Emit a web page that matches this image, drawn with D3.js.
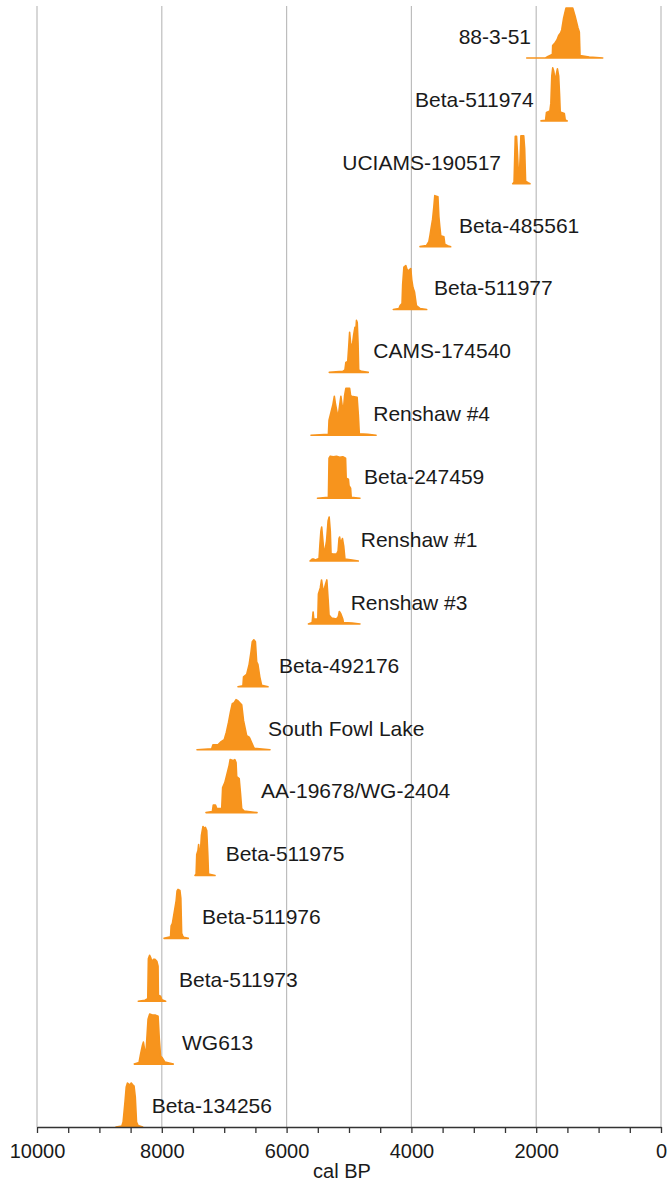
<!DOCTYPE html>
<html>
<head>
<meta charset="utf-8">
<script src="https://cdn.jsdelivr.net/npm/d3@7"></script>
<style>
  html, body { margin: 0; padding: 0; background: #fff; }
  svg { display: block; font-family: "Liberation Sans", Arial, Helvetica, sans-serif; }
</style>
</head>
<body>
<svg id="chart" width="667" height="1182"></svg>
<script>
// Radiocarbon samples, youngest at the top
const samples = [
  "88-3-51", "Beta-511974", "UCIAMS-190517", "Beta-485561", "Beta-511977",
  "CAMS-174540", "Renshaw #4", "Beta-247459", "Renshaw #1", "Renshaw #3",
  "Beta-492176", "South Fowl Lake", "AA-19678/WG-2404", "Beta-511975",
  "Beta-511976", "Beta-511973", "WG613", "Beta-134256"
];

// Calibrated probability distributions: [cal BP, relative probability]
const densities = [
  [[2152,0],[1850,0],[1811,0.03],[1760,0.06],[1740,0.08],[1736,0.25],[1700,0.3],[1667,0.36],[1640,0.45],[1610,0.5],[1591,0.56],[1560,0.8],[1522,1.0],[1415,1.0],[1380,0.85],[1330,0.6],[1309,0.52],[1298,0.05],[1250,0.04],[1150,0.02],[934,0]],
  [[1923,0],[1850,0.01],[1835,0.17],[1780,0.2],[1765,0.35],[1750,0.9],[1735,1.06],[1720,1.0],[1700,0.85],[1688,0.82],[1675,0.95],[1660,1.04],[1640,0.9],[1625,0.5],[1615,0.18],[1550,0.15],[1535,0.02],[1502,0]],
  [[2377,0],[2355,0.03],[2345,0.5],[2335,0.95],[2315,0.95],[2300,0.6],[2285,0.2],[2270,0.15],[2255,0.6],[2245,0.96],[2200,0.96],[2185,0.7],[2170,0.05],[2130,0.02],[2099,0]],
  [[3862,0],[3760,0.02],[3720,0.1],[3700,0.24],[3680,0.4],[3660,0.55],[3640,0.8],[3625,1.02],[3575,1.0],[3560,0.6],[3545,0.4],[3530,0.22],[3480,0.2],[3465,0.05],[3420,0.02],[3370,0]],
  [[4290,0],[4200,0.02],[4180,0.08],[4150,0.12],[4140,0.5],[4120,0.85],[4090,0.88],[4070,0.8],[4050,0.76],[4030,0.8],[4010,0.82],[3995,0.6],[3975,0.44],[3950,0.35],[3920,0.08],[3860,0.02],[3755,0]],
  [[5316,0],[5100,0.02],[5065,0.05],[5050,0.2],[5020,0.22],[5005,0.5],[4990,0.8],[4975,0.6],[4960,0.5],[4945,0.55],[4925,0.75],[4905,0.9],[4890,0.85],[4880,1.04],[4868,1.0],[4855,0.6],[4845,0.05],[4800,0.02],[4691,0]],
  [[5609,0],[5330,0.02],[5320,0.3],[5290,0.45],[5260,0.6],[5235,0.78],[5220,0.65],[5190,0.45],[5170,0.4],[5150,0.6],[5130,0.78],[5110,0.6],[5090,0.5],[5070,0.8],[5050,0.94],[4990,0.94],[4975,0.8],[4960,0.78],[4870,0.76],[4850,0.4],[4835,0.03],[4700,0.02],[4567,0]],
  [[5505,0],[5330,0.02],[5320,0.8],[5300,0.84],[5250,0.83],[5200,0.84],[5150,0.82],[5100,0.83],[5055,0.8],[5045,0.4],[5010,0.38],[5000,0.25],[4975,0.2],[4965,0.02],[4824,0]],
  [[5625,0],[5590,0.04],[5570,0.04],[5540,0.02],[5480,0.05],[5465,0.35],[5450,0.6],[5438,0.68],[5425,0.5],[5405,0.22],[5385,0.22],[5360,0.4],[5335,0.8],[5318,0.88],[5300,0.6],[5288,0.15],[5260,0.14],[5200,0.14],[5175,0.2],[5160,0.45],[5150,0.48],[5135,0.35],[5120,0.4],[5105,0.45],[5085,0.3],[5065,0.04],[4950,0.02],[4851,0]],
  [[5650,0],[5590,0.03],[5575,0.24],[5565,0.1],[5500,0.1],[5490,0.6],[5460,0.72],[5440,0.88],[5420,0.7],[5400,0.68],[5375,0.8],[5355,0.88],[5335,0.5],[5320,0.18],[5280,0.12],[5200,0.1],[5170,0.15],[5155,0.25],[5130,0.2],[5100,0.1],[5090,0.03],[4950,0.02],[4824,0]],
  [[6779,0],[6700,0.02],[6690,0.2],[6640,0.25],[6600,0.45],[6570,0.7],[6550,0.9],[6525,0.94],[6500,0.9],[6480,0.5],[6460,0.45],[6430,0.2],[6400,0.03],[6298,0]],
  [[7436,0],[7200,0.02],[7180,0.1],[7100,0.1],[7060,0.15],[7000,0.2],[6965,0.35],[6930,0.55],[6900,0.75],[6870,0.92],[6840,0.94],[6810,1.0],[6780,0.98],[6750,0.94],[6720,0.9],[6690,0.58],[6660,0.4],[6640,0.28],[6600,0.25],[6580,0.2],[6520,0.03],[6266,0]],
  [[7292,0],[7190,0.02],[7175,0.15],[7140,0.15],[7120,0.08],[7040,0.08],[7025,0.5],[6990,0.6],[6960,0.75],[6920,0.95],[6905,1.06],[6860,1.04],[6830,1.06],[6810,1.0],[6800,0.72],[6760,0.68],[6740,0.4],[6720,0.08],[6680,0.03],[6474,0]],
  [[7468,0],[7450,0.03],[7440,0.42],[7420,0.5],[7410,0.62],[7395,0.42],[7385,0.4],[7365,0.8],[7340,0.98],[7320,0.94],[7300,0.96],[7280,0.9],[7262,0.4],[7252,0.03],[7147,0]],
  [[7965,0],[7860,0.03],[7850,0.25],[7830,0.3],[7810,0.45],[7790,0.6],[7770,0.75],[7755,0.95],[7740,0.98],[7710,0.96],[7695,0.8],[7682,0.1],[7665,0.05],[7650,0.02],[7575,0]],
  [[8377,0],[8270,0.02],[8225,0.05],[8215,0.85],[8195,0.92],[8180,0.88],[8155,0.78],[8135,0.84],[8110,0.84],[8080,0.8],[8060,0.7],[8055,0.12],[8020,0.1],[8000,0.03],[7938,0]],
  [[8441,0],[8365,0.03],[8340,0.2],[8310,0.38],[8295,0.44],[8270,0.25],[8255,0.2],[8235,0.6],[8220,0.9],[8195,1.0],[8150,0.98],[8100,0.98],[8060,0.96],[8040,0.5],[8020,0.16],[7990,0.12],[7950,0.04],[7816,0]],
  [[8734,0],[8640,0.02],[8620,0.1],[8590,0.5],[8570,0.8],[8550,0.88],[8530,0.86],[8510,0.84],[8490,0.88],[8470,0.85],[8445,0.82],[8425,0.6],[8405,0.1],[8380,0.03],[8306,0]]
];

// Year (cal BP) at which each sample name is anchored
const labelYears = [2099, 2056, 2580, 3221, 3622, 4595, 4595, 4744, 4796, 4957,
                    6106, 6282, 6394, 6960, 7340, 7708, 7660, 8146];

// Samples whose names sit to the left of their distribution
const leftLabelled = ["88-3-51", "Beta-511974", "UCIAMS-190517"];

const xDomain = [10000, 0];
const minorTicks = d3.range(0, 10001, 500);
const majorTicks = [10000, 8000, 6000, 4000, 2000, 0];
const axisTitle = "cal BP";

// ---- layout ----
const W = 667, H = 1182;
const plotLeft = 37, plotRight = 661, plotTop = 6, axisY = 1127;
const orange = "#f7941d";

const svg = d3.select("#chart");

const x = d3.scaleLinear().domain(xDomain).range([plotLeft, plotRight]);
const y = d3.scalePoint().domain(samples).range([58, axisY]);
const h = d3.scaleLinear().domain([0, 1]).range([0, 50]);

// vertical gridlines
svg.append("g")
  .selectAll("line")
  .data(majorTicks)
  .join("line")
  .attr("x1", d => x(d)).attr("x2", d => x(d))
  .attr("y1", plotTop).attr("y2", axisY)
  .attr("stroke", "#bdbdbd")
  .attr("stroke-width", 1.2);

// distributions
const area = d3.area()
  .x(d => x(d[0]))
  .y0(0)
  .y1(d => -h(d[1]))
  .curve(d3.curveLinear);

const rows = svg.append("g")
  .selectAll("g")
  .data(samples)
  .join("g")
  .attr("transform", d => `translate(0,${y(d)})`);

rows.append("path")
  .attr("d", (d, i) => area(densities[i]))
  .attr("fill", orange)
  .attr("stroke", orange)
  .attr("stroke-width", 1.6)
  .attr("stroke-linejoin", "round");

rows.append("text")
  .attr("x", (d, i) => leftLabelled.includes(d) ? x(labelYears[i]) + 1 : x(labelYears[i]) - 1)
  .attr("y", -21.5)
  .attr("dy", "0.35em")
  .attr("text-anchor", d => leftLabelled.includes(d) ? "end" : "start")
  .attr("font-size", 21)
  .attr("fill", "#1a1a1a")
  .text(d => d);

// x axis
const axis = d3.axisBottom(x)
  .tickValues(minorTicks)
  .tickFormat(d => majorTicks.includes(d) ? d : "")
  .tickSize(6)
  .tickSizeOuter(0)
  .tickPadding(11);

const gx = svg.append("g")
  .attr("transform", `translate(0,${axisY})`)
  .call(axis);

gx.select(".domain").attr("stroke", "#333").attr("stroke-width", 1.3);
gx.selectAll(".tick line").attr("stroke", "#333").attr("stroke-width", 1.3);
gx.selectAll(".tick text")
  .attr("font-size", 20)
  .attr("font-family", "Liberation Sans, Arial, sans-serif")
  .attr("fill", "#1a1a1a");

svg.append("text")
  .attr("x", (plotLeft + plotRight) / 2 - 7)
  .attr("y", 1178)
  .attr("text-anchor", "middle")
  .attr("font-size", 20)
  .attr("fill", "#1a1a1a")
  .text(axisTitle);
</script>
</body>
</html>
